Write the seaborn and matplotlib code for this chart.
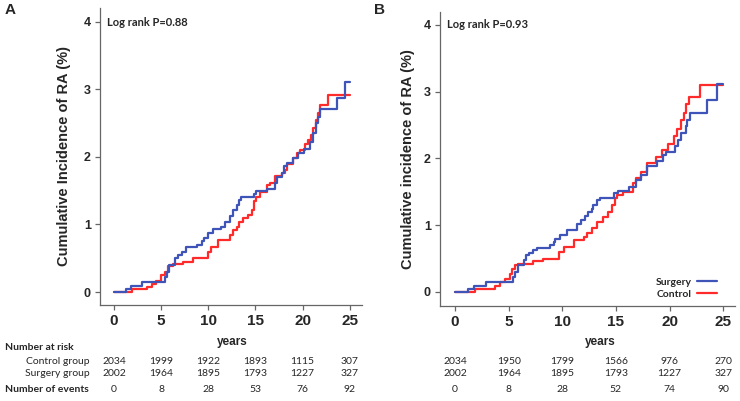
import numpy as np
import pandas as pd
import matplotlib
matplotlib.use("Agg")
import matplotlib.pyplot as plt
import seaborn as sns
from matplotlib.transforms import blended_transform_factory
from matplotlib.lines import Line2D

# ---------------- data ----------------
a_surg_t = [0, 1.3, 1.8, 3.0, 5.4, 5.6, 5.8, 6.5, 6.8, 7.2, 7.6, 8.8, 9.3, 9.5, 10.0, 10.5, 11.4, 11.8,
            12.3, 12.6, 13.0, 13.3, 13.5, 14.8, 15.1, 16.2, 17.1, 17.3, 17.8, 18.0, 18.4, 19.0, 19.5,
            20.1, 20.8, 21.1, 21.4, 21.6, 21.8, 23.6, 24.5, 25.0]
a_surg_v = [0, 0.05, 0.09, 0.15, 0.22, 0.30, 0.40, 0.50, 0.55, 0.60, 0.66, 0.70, 0.75, 0.80, 0.87, 0.93,
            0.97, 1.04, 1.12, 1.21, 1.29, 1.36, 1.41, 1.45, 1.49, 1.53, 1.61, 1.70, 1.76, 1.86, 1.91,
            1.99, 2.06, 2.12, 2.22, 2.35, 2.50, 2.59, 2.70, 2.87, 3.11, 3.11]
a_ctrl_t = [0, 1.9, 3.5, 4.0, 4.5, 5.0, 5.4, 5.7, 6.3, 7.3, 8.4, 10.0, 10.3, 11.0, 12.3, 12.6, 13.0,
            13.3, 13.7, 14.2, 14.6, 14.9, 15.1, 15.5, 16.2, 16.5, 17.1, 17.8, 18.1, 18.4, 19.0, 19.4,
            19.7, 20.3, 20.6, 20.9, 21.1, 21.4, 21.6, 21.8, 22.7, 25.0]
a_ctrl_v = [0, 0.04, 0.08, 0.12, 0.17, 0.25, 0.30, 0.38, 0.41, 0.45, 0.50, 0.60, 0.67, 0.77, 0.85,
            0.92, 0.97, 1.04, 1.10, 1.14, 1.21, 1.34, 1.41, 1.48, 1.58, 1.61, 1.71, 1.76, 1.80, 1.90,
            1.98, 2.05, 2.10, 2.19, 2.25, 2.32, 2.42, 2.55, 2.65, 2.77, 2.91, 2.91]

b_surg_t = [0, 1.2, 1.8, 2.9, 5.4, 5.55, 5.85, 6.4, 6.6, 6.85, 7.3, 7.6, 8.9, 9.2, 9.3, 9.8, 10.4,
            11.4, 11.7, 12.1, 12.4, 12.75, 12.9, 13.2, 13.5, 14.8, 15.2, 16.2, 16.9, 17.3, 17.9, 18.8,
            19.4, 19.7, 20.5, 20.8, 21.1, 21.5, 21.6, 21.9, 23.5, 24.4, 25.0]
b_surg_v = [0, 0.04, 0.09, 0.15, 0.22, 0.30, 0.40, 0.48, 0.55, 0.58, 0.63, 0.66, 0.71, 0.75, 0.80,
            0.85, 0.92, 1.02, 1.08, 1.13, 1.20, 1.24, 1.30, 1.37, 1.40, 1.48, 1.51, 1.57, 1.68, 1.75,
            1.88, 1.96, 2.05, 2.10, 2.18, 2.28, 2.38, 2.48, 2.58, 2.68, 2.87, 3.11, 3.11]
b_ctrl_t = [0, 1.9, 3.7, 4.2, 4.7, 5.1, 5.3, 5.6, 5.9, 7.3, 8.2, 9.7, 10.2, 11.1, 12.0, 12.3, 12.75,
            13.2, 13.8, 14.3, 14.6, 14.9, 15.1, 15.7, 16.6, 16.9, 17.3, 17.9, 18.7, 19.3, 19.9, 20.4,
            20.7, 21.1, 21.3, 21.5, 21.8, 22.8, 25.0]
b_ctrl_v = [0, 0.05, 0.09, 0.15, 0.20, 0.27, 0.35, 0.40, 0.42, 0.46, 0.50, 0.60, 0.68, 0.78, 0.83,
            0.88, 0.95, 1.05, 1.12, 1.20, 1.30, 1.40, 1.45, 1.50, 1.63, 1.70, 1.80, 1.93, 2.02, 2.13,
            2.22, 2.33, 2.44, 2.58, 2.68, 2.81, 2.92, 3.10, 3.10]

x_ticks = [0, 5, 10, 15, 20, 25]
y_ticks = [0, 1, 2, 3, 4]

a_risk_ctrl = [2034, 1999, 1922, 1893, 1115, 307]
a_risk_surg = [2002, 1964, 1895, 1793, 1227, 327]
a_events = [0, 8, 28, 53, 76, 92]
b_risk_ctrl = [2034, 1950, 1799, 1566, 976, 270]
b_risk_surg = [2002, 1964, 1895, 1793, 1227, 327]
b_events = [0, 8, 28, 52, 74, 90]

a_pval = "Log rank P=0.88"
b_pval = "Log rank P=0.93"

groups = ["Surgery", "Control"]
colors = {"Surgery": "#3f54b8", "Control": "#ff2a2a"}

# ---------------- figure ----------------
W, H = 740, 401
sns.set_theme(style="ticks")
plt.rcParams['font.family'] = ['Liberation Sans', 'DejaVu Sans']

fig = plt.figure(figsize=(W / 100, H / 100), dpi=100)
axA = fig.add_axes([100 / W, 1 - 305 / H, 262 / W, 297 / H])
axB = fig.add_axes([440 / W, 1 - 306 / H, 295 / W, 294 / H])

def make_df(st, sv, ct, cv):
    d1 = pd.DataFrame({"years": st, "inc": sv, "group": "Surgery"})
    d2 = pd.DataFrame({"years": ct, "inc": cv, "group": "Control"})
    return pd.concat([d1, d2], ignore_index=True)

dfA = make_df(a_surg_t, a_surg_v, a_ctrl_t, a_ctrl_v)
dfB = make_df(b_surg_t, b_surg_v, b_ctrl_t, b_ctrl_v)

spine_col = "#666666"
for ax, df, ylab, xlim, ylim in [
        (axA, dfA, "Cumulative Incidence of RA (%)", (-1.48, 26.3), (-0.19, 4.2)),
        (axB, dfB, "Cumulative incidence of RA (%)", (-1.4, 26.1), (-0.21, 4.19))]:
    sns.lineplot(data=df, x="years", y="inc", hue="group", hue_order=groups[::-1],
                 palette=colors, drawstyle="steps-post", estimator=None, sort=False,
                 linewidth=1.6, legend=False, ax=ax)
    ax.set_xlim(*xlim)
    ax.set_ylim(*ylim)
    ax.set_xticks(x_ticks)
    ax.set_yticks(y_ticks)
    ax.set_xticklabels([str(t) for t in x_ticks], fontsize=11, fontweight="bold")
    ax.set_yticklabels([str(t) for t in y_ticks], fontsize=9, fontweight="bold")
    ax.set_xlabel("")
    ax.set_ylabel(ylab, fontsize=10.5, fontweight="bold", labelpad=8)
    for s in ["top", "right"]:
        ax.spines[s].set_visible(False)
    for s in ["left", "bottom"]:
        ax.spines[s].set_color(spine_col)
        ax.spines[s].set_linewidth(0.9)
    ax.tick_params(axis="both", length=3.5, width=0.9, color=spine_col, pad=3)
    ax.set_facecolor("white")

axA.yaxis.set_label_coords(-29 / 262, 0.5)
axB.yaxis.set_label_coords(-25 / 295, 0.5)

tfont = ['Lato', 'DejaVu Sans']
axA.text(107 / W, 1 - 22 / H, a_pval, transform=fig.transFigure, fontsize=8, fontweight="bold",
         family=tfont, va="center", ha="left")
axB.text(447 / W, 1 - 24 / H, b_pval, transform=fig.transFigure, fontsize=8, fontweight="bold",
         family=tfont, va="center", ha="left")

fig.text(5 / W, 1 - 10 / H, "A", fontsize=11, fontweight="bold", va="center", ha="left")
fig.text(374 / W, 1 - 10 / H, "B", fontsize=11, fontweight="bold", va="center", ha="left")

# legend in B
handles = [Line2D([], [], color=colors[g], lw=1.6) for g in groups]
axB.legend(handles, groups, loc="lower right", bbox_to_anchor=(717 / W, 1 - 299 / H),
           bbox_transform=fig.transFigure, frameon=False, markerfirst=False,
           handlelength=1.9, handletextpad=0.5, labelspacing=0.25, borderpad=0, borderaxespad=0,
           prop={"family": tfont, "weight": "bold", "size": 7.5})

# years labels
for ax, xc in [(axA, 232), (axB, 600)]:
    fig.text(xc / W, 1 - 342 / H, "years", fontsize=8.5, fontweight="bold", ha="center", va="center")

# risk tables
def table(ax, ctrl, surg, ev):
    tr = blended_transform_factory(ax.transData, fig.transFigure)
    for t, c, s, e in zip(x_ticks, ctrl, surg, ev):
        ax.text(t, 1 - 361 / H, str(c), transform=tr, ha="center", va="center", fontsize=7.5, family=tfont)
        ax.text(t, 1 - 374 / H, str(s), transform=tr, ha="center", va="center", fontsize=7.5, family=tfont)
        ax.text(t, 1 - 389 / H, str(e), transform=tr, ha="center", va="center", fontsize=7.5, family=tfont)

table(axA, a_risk_ctrl, a_risk_surg, a_events)
table(axB, b_risk_ctrl, b_risk_surg, b_events)

fig.text(5 / W, 1 - 348 / H, "Number at risk", fontsize=7.5, fontweight="bold", family=tfont, ha="left", va="center")
fig.text(90 / W, 1 - 361 / H, "Control group", fontsize=7.5, family=tfont, ha="right", va="center")
fig.text(90 / W, 1 - 374 / H, "Surgery group", fontsize=7.5, family=tfont, ha="right", va="center")
fig.text(5 / W, 1 - 389 / H, "Number of events", fontsize=7.5, fontweight="bold", family=tfont, ha="left", va="center")

fig.savefig("out.png", dpi=100, facecolor="white")
